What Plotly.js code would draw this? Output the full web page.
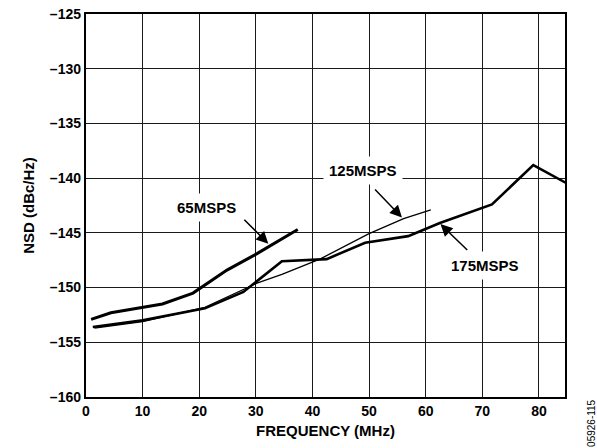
<!DOCTYPE html>
<html>
<head>
<meta charset="utf-8">
<script src="https://cdn.plot.ly/plotly-3.0.1.min.js"></script>
<style>html,body{margin:0;padding:0;background:#fff;}#chart{width:597px;height:448px;}</style>
</head>
<body>
<div id="chart"></div>
<script>
// Data
const freq65 = [0.9, 4.4, 13.5, 18.9, 24.9, 30.2, 37.4];
const nsd65  = [-152.9, -152.3, -151.5, -150.5, -148.4, -146.9, -144.7];

const freq125 = [1.5, 10, 21, 30.2, 34.6, 41.3, 49.9, 56.1, 60.9];
const nsd125  = [-153.7, -153.1, -151.8, -149.6, -148.8, -147.4, -145.1, -143.7, -142.9];

const freq175 = [1.2, 10, 21, 27.8, 34.6, 42.5, 49.3, 56.9, 62.5, 71.7, 79.0, 85];
const nsd175  = [-153.6, -153.0, -151.9, -150.4, -147.6, -147.4, -145.9, -145.3, -144.1, -142.4, -138.8, -140.5];

const xTicks = [0, 10, 20, 30, 40, 50, 60, 70, 80];
const yTicks = [-160, -155, -150, -145, -140, -135, -130, -125];
const yTickText = yTicks.map(v => '\u2013' + Math.abs(v));

const lineColor = '#000';
const traces = [
  {x: freq175, y: nsd175, mode: 'lines', line: {color: lineColor, width: 2.6}, name: '175MSPS'},
  {x: freq125, y: nsd125, mode: 'lines', line: {color: lineColor, width: 1.3}, name: '125MSPS'},
  {x: freq65,  y: nsd65,  mode: 'lines', line: {color: lineColor, width: 3.0}, name: '65MSPS'}
];

const font = {family: 'Arial, "Liberation Sans", Helvetica, sans-serif', color: '#000'};

function label(text, x, y) {
  return {text: '<b>' + text + '</b>', x: x, y: y, xref: 'x', yref: 'y', showarrow: false,
    bgcolor: '#fff', borderpad: 5, font: Object.assign({}, font, {size: 15})};
}
function arrow(tx, ty, hx, hy) {
  return {text: '', x: hx, y: hy, ax: tx, ay: ty, xref: 'x', yref: 'y', axref: 'x', ayref: 'y',
    showarrow: true, arrowhead: 2, arrowsize: 1.6, arrowwidth: 1.5, arrowcolor: '#000', standoff: 0};
}

const layout = {
  width: 597, height: 448,
  margin: {l: 86, r: 32, t: 14, b: 51},
  paper_bgcolor: '#fff', plot_bgcolor: '#fff',
  showlegend: false,
  font: font,
  xaxis: {
    range: [0, 84.6], tickvals: xTicks, ticktext: xTicks.map(v => '<b>' + v + '</b>'),
    showgrid: true, gridcolor: '#1a1a1a', gridwidth: 1,
    showline: true, linecolor: '#000', linewidth: 2.2, mirror: true,
    ticks: '', zeroline: false,
    tickfont: Object.assign({}, font, {size: 14}),
    title: {text: '<b>FREQUENCY (MHz)</b>', font: Object.assign({}, font, {size: 15}), standoff: 8}
  },
  yaxis: {
    range: [-160, -125], tickvals: yTicks, ticktext: yTickText.map(t => '<b>' + t + '</b>'),
    showgrid: true, gridcolor: '#1a1a1a', gridwidth: 1,
    showline: true, linecolor: '#000', linewidth: 2.2, mirror: true,
    ticks: '', zeroline: false,
    tickfont: Object.assign({}, font, {size: 14}),
    title: {text: '<b>NSD (dBc/Hz)</b>', font: Object.assign({}, font, {size: 15}), standoff: 12}
  },
  annotations: [
    label('65MSPS', 21.2, -142.65),
    label('125MSPS', 48.9, -139.3),
    label('175MSPS', 70.5, -147.95),
    arrow(27.7, -143.66, 32.2, -146.0),
    arrow(50.8, -140.9, 55.8, -143.6),
    arrow(67.6, -146.7, 62.6, -144.2),
    {text: '05926-115', xref: 'paper', yref: 'paper', x: 1.054, y: -0.068, showarrow: false,
     textangle: -90, xanchor: 'center', yanchor: 'middle', font: Object.assign({}, font, {size: 10})}
  ]
};

Plotly.newPlot('chart', traces, layout, {displayModeBar: false, staticPlot: true});
</script>
</body>
</html>
